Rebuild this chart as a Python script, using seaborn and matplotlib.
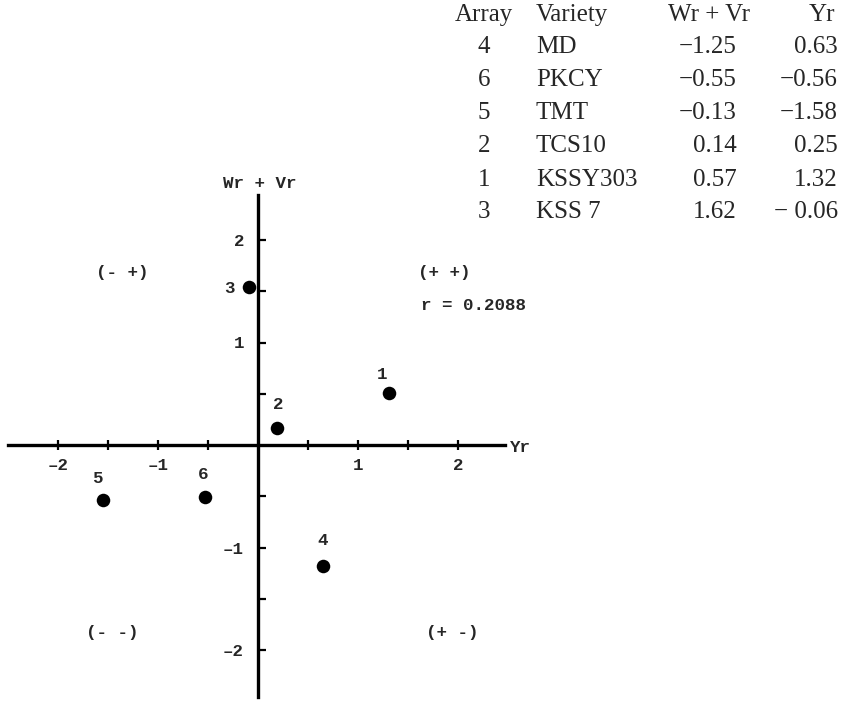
import matplotlib
matplotlib.use("Agg")
import matplotlib.pyplot as plt
import seaborn as sns
import pandas as pd

# ---- data ----
array_ids = ["1", "2", "3", "4", "5", "6"]
# plotted positions (Yr, Wr + Vr)
plot_yr = [1.31, 0.19, -0.09, 0.65, -1.55, -0.53]
plot_wrvr = [0.51, 0.17, 1.54, -1.18, -0.54, -0.51]

# table (as printed)
tbl_array = ["4", "6", "5", "2", "1", "3"]
tbl_variety = ["MD", "PKCY", "TMT", "TCS10", "KSSY303", "KSS 7"]
tbl_wrvr = ["\u22121.25", "\u22120.55", "\u22120.13", "0.14", "0.57", "1.62"]
tbl_yr = ["0.63", "\u22120.56", "\u22121.58", "0.25", "1.32", "\u2212 0.06"]

x_major = [-2, -1, 1, 2]
x_minor = [-1.5, -0.5, 0.5, 1.5]
y_major = [-2, -1, 1, 2]
y_minor = [-1.5, -0.5, 0.5, 1.5]

r_text = "r = 0.2088"

df = pd.DataFrame({"id": array_ids, "Yr": plot_yr, "WrVr": plot_wrvr})

sns.set_style("white")
plt.rcParams["font.family"] = ["Liberation Mono", "DejaVu Sans Mono"]

W, H = 844, 701
fig = plt.figure(figsize=(W / 100, H / 100), dpi=100)
ax = fig.add_axes([0, 0, 1, 1])

x0, sx = 258, 100.0
y0, sy = 445, 102.5
ax.set_xlim((0 - x0) / sx, (W - x0) / sx)
ax.set_ylim((y0 - H) / sy, (y0 - 0) / sy)

sns.scatterplot(data=df, x="Yr", y="WrVr", ax=ax, color="black", s=95,
                edgecolor="black", linewidth=0, legend=False, zorder=5)

mono = dict(family=["Liberation Mono", "DejaVu Sans Mono"], weight="bold", size=12.6)

# point labels
offsets = {"1": (-5, 8), "2": (1, 11), "3": (-10, -1), "4": (0, 13),
           "5": (-4, 10), "6": (-1, 11)}
for _, row in df.iterrows():
    dx, dy = offsets[row["id"]]
    ha = "right" if row["id"] == "3" else "center"
    va = "center" if row["id"] == "3" else "bottom"
    ax.annotate(row["id"], (row["Yr"], row["WrVr"]), xytext=(dx, dy),
                textcoords="offset points", ha=ha, va=va, **mono)

# axes as crossing lines
for s in ["top", "right"]:
    ax.spines[s].set_visible(False)
ax.spines["left"].set_position(("data", 0))
ax.spines["bottom"].set_position(("data", 0))
ax.spines["bottom"].set_bounds((8 - x0) / sx, (505 - x0) / sx)
ax.spines["left"].set_bounds((y0 - 697) / sy, (y0 - 195) / sy)
for s in ["left", "bottom"]:
    ax.spines[s].set_linewidth(2.4)
    ax.spines[s].set_color("black")

ax.set_xticks(x_major)
ax.set_xticks(x_minor, minor=True)
ax.set_yticks(y_major)
ax.set_yticks(y_minor, minor=True)
ax.set_xticklabels([str(v).replace("-", "\u2013") for v in x_major])
ax.set_yticklabels([str(v).replace("-", "\u2013") for v in y_major])
ax.tick_params(axis="x", which="both", bottom=True, direction="inout", length=7,
               width=1.6, color="black", pad=6)
ax.tick_params(axis="y", which="both", left=True, direction="in", length=6,
               width=1.6, color="black", pad=10)
for lab in ax.get_xticklabels() + ax.get_yticklabels():
    lab.set_fontfamily(mono["family"])
    lab.set_fontweight("bold")
    lab.set_fontsize(12.6)
ax.set_xlabel("")
ax.set_ylabel("")
ax.grid(False)

def ftext(px, py, s, **kw):
    fig.text(px / W, 1 - py / H, s, **kw)

# axis titles
ftext(260, 183, "Wr + Vr", ha="center", va="center", **mono)
ftext(510, 447, "Yr", ha="left", va="center", **mono)

# quadrant labels
ftext(122, 273, "(- +)", ha="center", va="center", **mono)
ftext(444, 273, "(+ +)", ha="center", va="center", **mono)
ftext(421, 306, r_text, ha="left", va="center", **mono)
ftext(112, 633, "(- -)", ha="center", va="center", **mono)
ftext(452, 633, "(+ -)", ha="center", va="center", **mono)

# table
serif = dict(family=["Liberation Serif", "DejaVu Serif"], size=18)
row_y = [47, 80, 113, 146, 180, 212]
ftext(484, 15, "Array", ha="center", va="center", **serif)
ftext(536, 15, "Variety", ha="left", va="center", **serif)
ftext(709, 15, "Wr + Vr", ha="center", va="center", **serif)
ftext(822, 15, "Yr", ha="center", va="center", **serif)
for yy, a, v, w, y in zip(row_y, tbl_array, tbl_variety, tbl_wrvr, tbl_yr):
    ftext(484, yy, a, ha="center", va="center", **serif)
    ftext(536, yy, v, ha="left", va="center", **serif)
    ftext(737, yy, w, ha="right", va="center", **serif)
    ftext(838, yy, y, ha="right", va="center", **serif)

fig.savefig("out.png", dpi=100, facecolor="white")
